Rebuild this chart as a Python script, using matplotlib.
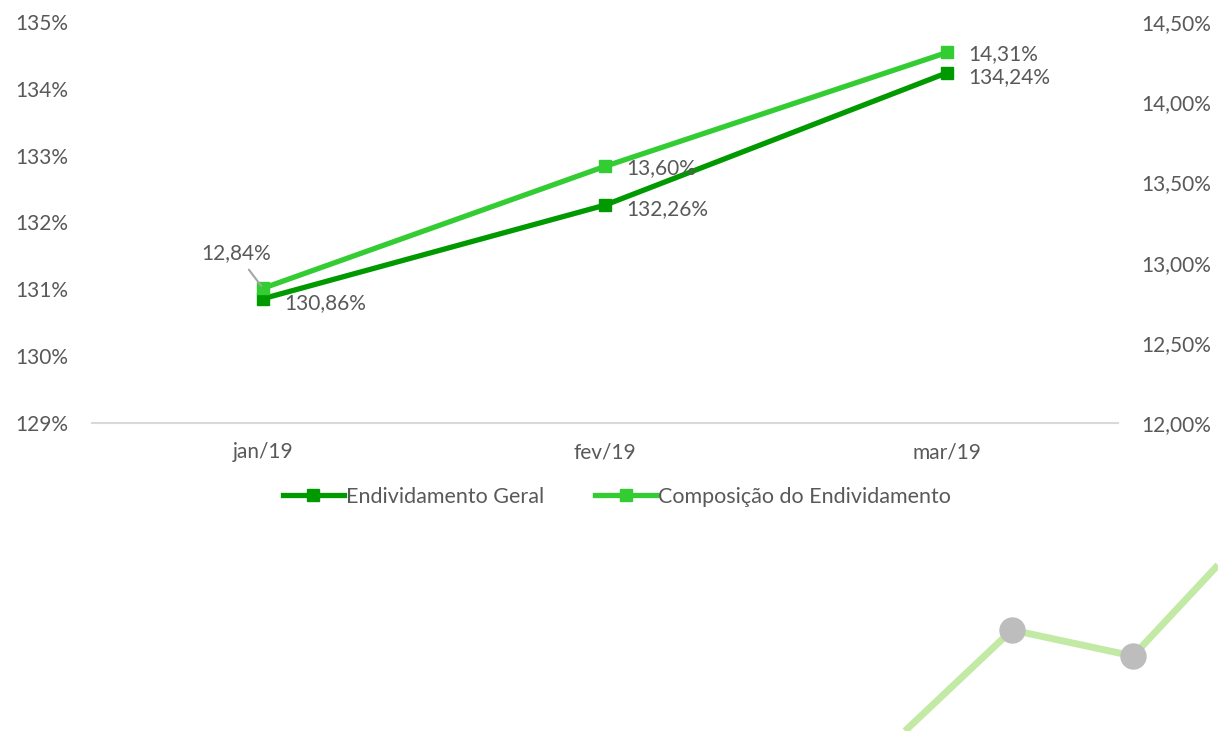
import matplotlib.pyplot as plt
from matplotlib.ticker import FuncFormatter

plt.rcParams['font.family'] = ['Lato', 'DejaVu Sans']

# dados
meses = ['jan/19', 'fev/19', 'mar/19']
endiv_geral = [130.86, 132.26, 134.24]
composicao = [12.84, 13.60, 14.31]

# enfeite no canto inferior direito (coordenadas em pixels da figura)
deco_x = [905, 1012, 1133, 1218]
deco_y = [731, 630, 656, 565]
deco_pts_x = [1012, 1133]
deco_pts_y = [630, 656]

cor_geral = '#009900'
cor_comp = '#33cc33'
cinza = '#595959'
fs = 15


def virgula(v, casas):
    return f'{v:.{casas}f}'.replace('.', ',') + '%'


fig = plt.figure(figsize=(12.18, 7.31), dpi=100)

# fundo decorativo
bg = fig.add_axes([0, 0, 1, 1], zorder=0)
bg.set_xlim(0, 1218)
bg.set_ylim(731, 0)
bg.axis('off')
bg.plot(deco_x, deco_y, color='#c2eaa5', lw=5, solid_capstyle='butt')
bg.plot(deco_pts_x, deco_pts_y, 'o', color='#bdbdbd', ms=18)

ax = fig.add_axes([92 / 1218, 1 - 423 / 731, 1026 / 1218, 401 / 731], zorder=1)
ax.patch.set_visible(False)
ax2 = ax.twinx()

x = range(len(meses))
ax.plot(x, endiv_geral, color=cor_geral, lw=3.8, marker='s', ms=9,
        label='Endividamento Geral', zorder=3)
ax2.plot(x, composicao, color=cor_comp, lw=3.8, marker='s', ms=9,
         label='Composição do Endividamento', zorder=3)

ax.set_xlim(-0.5, 2.5)
ax.set_ylim(129, 135)
ax2.set_ylim(12.0, 14.5)
ax.set_yticks(range(129, 136))
ax2.set_yticks([12.0, 12.5, 13.0, 13.5, 14.0, 14.5])
ax.yaxis.set_major_formatter(FuncFormatter(lambda v, p: virgula(v, 0)))
ax2.yaxis.set_major_formatter(FuncFormatter(lambda v, p: virgula(v, 2)))
ax.set_xticks(list(x))
ax.set_xticklabels(meses)

for a in (ax, ax2):
    for s in a.spines.values():
        s.set_visible(False)
    a.tick_params(length=0, labelsize=fs, colors=cinza)
ax.spines['bottom'].set_visible(True)
ax.spines['bottom'].set_color('#d9d9d9')
ax.spines['bottom'].set_linewidth(1.5)
ax.tick_params(axis='y', pad=17)
ax.tick_params(axis='x', pad=14)
ax2.tick_params(axis='y', pad=17)

# rótulos de dados
for i, v in enumerate(endiv_geral):
    ax.annotate(virgula(v, 2), (i, v), xytext=(15, -3), textcoords='offset points',
                ha='left', va='center', fontsize=fs, color=cinza)
for i, v in enumerate(composicao):
    if i == 0:
        ax2.annotate(virgula(v, 2), (i, v), xytext=(-19, 25), textcoords='offset points',
                     ha='center', va='center', fontsize=fs, color=cinza,
                     arrowprops=dict(arrowstyle='-', color='#a6a6a6', lw=1.5,
                                     shrinkA=3, shrinkB=2))
    else:
        ax2.annotate(virgula(v, 2), (i, v), xytext=(15, -1), textcoords='offset points',
                     ha='left', va='center', fontsize=fs, color=cinza)

h1, l1 = ax.get_legend_handles_labels()
h2, l2 = ax2.get_legend_handles_labels()
fig.legend(h1 + h2, l1 + l2, loc='center', bbox_to_anchor=(617 / 1218, 1 - 497 / 731),
           ncol=2, frameon=False, fontsize=15.5, labelcolor=cinza, handlelength=2.8,
           handletextpad=0.1, columnspacing=2.4)

fig.savefig('out.png', dpi=100)
